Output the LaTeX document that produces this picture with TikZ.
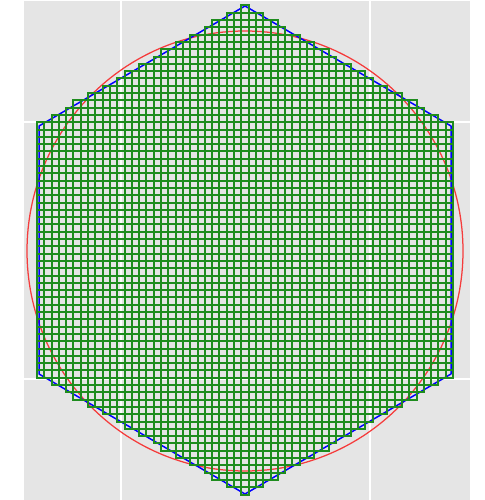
\documentclass[tikz,border=0pt]{standalone}
\usepackage{xcolor}
\usepackage{tikz}
\usetikzlibrary{calc}
\definecolor{panelgray}{RGB}{229,229,229}
\definecolor{cellgreen}{RGB}{30,140,30}
\definecolor{circred}{RGB}{245,60,60}
\tikzstyle{panel} = [fill = panelgray, draw = none]
\tikzstyle{gridline} = [draw = white, line width = 0.04cm]
\tikzstyle{cell} = [draw = cellgreen, line width = 0.04cm]
\tikzstyle{hexline} = [draw = blue, line width = 0.03cm, line join = round]
\tikzstyle{circline} = [draw = circred, line width = 0.025cm]

\begin{document}
\begin{tikzpicture}[x = 0.02cm, y = 0.02cm]
\useasboundingbox (0, 0) rectangle (484, 500);
\fill [white] (0, 0) rectangle (484, 500);
\path [panel] (24, 0) rectangle (470, 499);
\draw [gridline] (121, 0) -- (121, 499);
\draw [gridline] (370, 0) -- (370, 499);
\draw [gridline] (24, 378) -- (470, 378);
\draw [gridline] (24, 121) -- (470, 121);
% circle and hexagon
\coordinate (O) at (245, 250);
\draw [circline] (245, 249) ellipse [x radius = 218, y radius = 220];
\coordinate (T) at (245, 494);
\coordinate (UR) at (451, 374);
\coordinate (LR) at (451, 126);
\coordinate (B) at (245, 6);
\coordinate (LL) at (39, 126);
\coordinate (UL) at (39, 374);
\draw [hexline] (T) -- (UR) -- (LR) -- (B) -- (LL) -- (UL) -- cycle;
% cells
\foreach \i in {-28,...,28}{
  \foreach \j in {-34,...,34}{
    \pgfmathsetmacro{\dx}{abs(\i*7.3)}
    \pgfmathsetmacro{\dy}{abs(\j*7.3)}
    \pgfmathtruncatemacro{\inhex}{((\dx<=206) && (\dy<=244-0.5825*\dx)) ? 1 : 0}
    \ifnum\inhex=1
      \draw [cell] ($(O)+(\i*7.3-3.65, \j*7.3-3.65)$) rectangle +(7.3, 7.3);
    \fi
  }
}
\end{tikzpicture}
\end{document}
